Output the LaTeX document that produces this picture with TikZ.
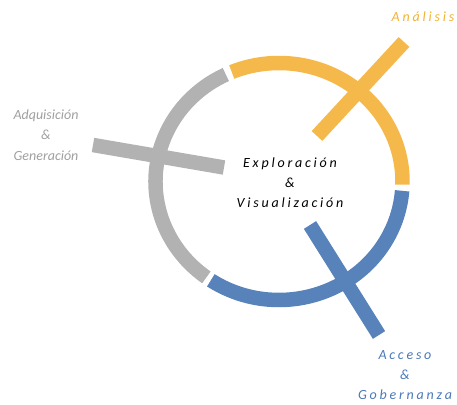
\documentclass[tikz,border=0pt]{standalone}
\usepackage{fontspec}
\setmainfont{Carlito}
\newfontfamily\spacedfont[LetterSpace=20]{Carlito}
\definecolor{cgold}{RGB}{245,185,75}
\definecolor{cgray}{RGB}{178,178,178}
\definecolor{cblue}{RGB}{88,131,186}
\definecolor{tgold}{RGB}{242,178,50}
\definecolor{tgray}{RGB}{160,160,160}
\definecolor{tblue}{RGB}{75,120,185}
\tikzset{
  ring/.style={line width=14.5pt},
  bar/.style={line width=14.5pt},
  lbl/.style={align=center, inner sep=0pt, font=\fontsize{14}{20.5}\selectfont\itshape},
  slbl/.style={align=center, inner sep=0pt, font=\fontsize{14}{20}\selectfont\spacedfont\itshape},
}
\begin{document}
\begin{tikzpicture}[x=1pt,y=1pt]
\useasboundingbox (0,0) rectangle (457,404);
\coordinate (C) at (279,222.5);
% ring segments
\draw[ring,cgold] (C) ++(-1.5:123.5 and 118.5) arc[start angle=-1.5, end angle=112.5, x radius=123.5, y radius=118.5];
\draw[ring,cgray] (C) ++(115.5:123.5 and 118.5) arc[start angle=115.5, end angle=234, x radius=123.5, y radius=118.5];
\draw[ring,cblue] (C) ++(236.5:123.5 and 118.5) arc[start angle=236.5, end angle=355.5, x radius=123.5, y radius=118.5];
% bars
\coordinate (g1) at (93,259);
\coordinate (g2) at (224,236.5);
\coordinate (y1) at (404,362);
\coordinate (y2) at (317,268);
\coordinate (b1) at (310,179);
\coordinate (b2) at (379,69);
\draw[bar,cgray] (g1) -- (g2);
\draw[bar,cgold] (y1) -- (y2);
\draw[bar,cblue] (b1) -- (b2);
% labels
\node[slbl,text=tgold] (ana) at (423,387) {Análisis};
\node[lbl,text=tgray] (adq) at (46,269) {Adquisición\\\&\\Generación};
\node[slbl,text=black] (exp) at (290,221) {Exploración\\\&\\Visualización};
\node[slbl,text=tblue] (acc) at (405,29) {Acceso\\\&\\Gobernanza};
\end{tikzpicture}
\end{document}
